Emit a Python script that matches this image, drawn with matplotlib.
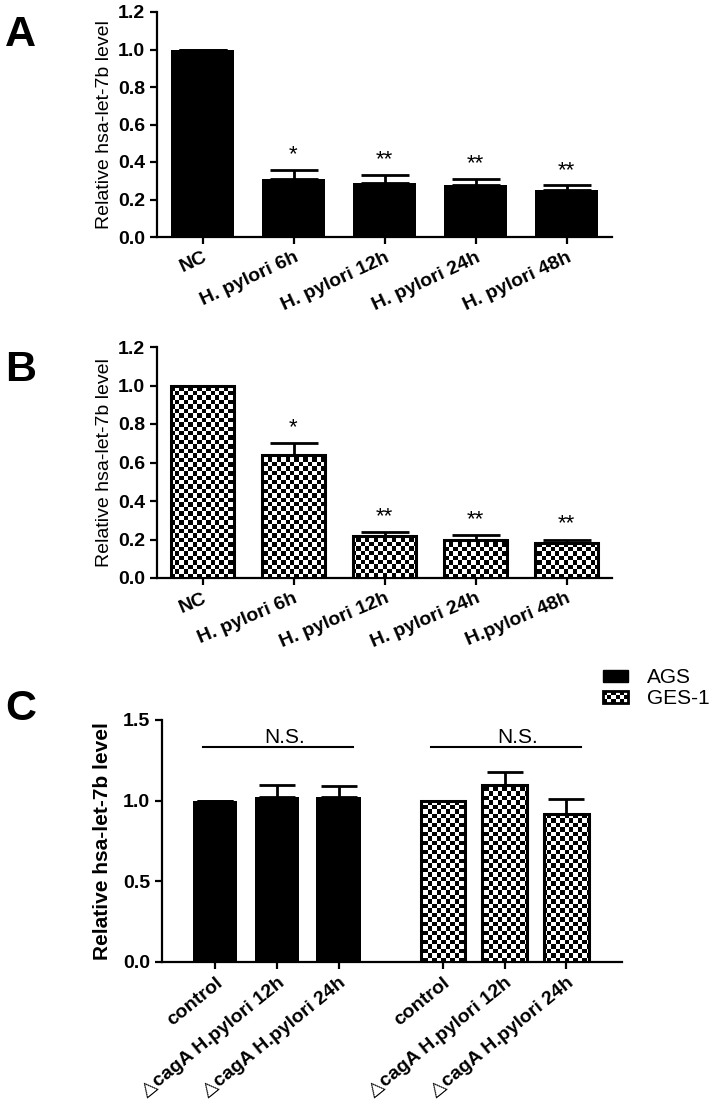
import numpy as np
import matplotlib
matplotlib.use("Agg")
import matplotlib.pyplot as plt
from matplotlib.patches import Rectangle, Patch
from matplotlib.collections import PatchCollection
from matplotlib.legend_handler import HandlerBase

plt.rcParams['font.family'] = ['Liberation Sans', 'DejaVu Sans']

# ---------------- data ----------------
a_labels = ["NC", "H. pylori 6h", "H. pylori 12h", "H. pylori 24h", "H. pylori 48h"]
a_values = [1.0, 0.31, 0.29, 0.28, 0.25]
a_errors = [0.0, 0.05, 0.04, 0.03, 0.025]
a_stars = ["", "*", "**", "**", "**"]

b_labels = ["NC", "H. pylori 6h", "H. pylori 12h", "H. pylori 24h", "H.pylori 48h"]
b_values = [1.0, 0.64, 0.22, 0.20, 0.18]
b_errors = [0.0, 0.06, 0.02, 0.025, 0.02]
b_stars = ["", "*", "**", "**", "**"]

c_labels = ["control", "\u25b3cagA H.pylori 12h", "\u25b3cagA H.pylori 24h"]
c_ags_values = [1.0, 1.02, 1.02]
c_ags_errors = [0.0, 0.08, 0.07]
c_ges_values = [1.0, 1.10, 0.92]
c_ges_errors = [0.0, 0.08, 0.09]
c_series = ["AGS", "GES-1"]
c_ns_label = "N.S."
c_ns_level = 1.333

ylabel = "Relative hsa-let-7b level"

W, H = 727, 1115
fig = plt.figure(figsize=(W / 100, H / 100), dpi=100)


def ax_at(left, right, top, bottom):
    return fig.add_axes([left / W, 1 - bottom / H, (right - left) / W, (bottom - top) / H])


CELL = 4.4


def checker_bars(ax, x, vals, width, xlim, ylim):
    ax.bar(x, vals, width=width, color='white', edgecolor='none', zorder=2)
    bw = ax.bbox.width
    bh = ax.bbox.height
    nx, ny = int(bw / CELL), int(bh / CELL)
    arr = (np.indices((ny, nx)).sum(0) % 2).astype(float)
    outline = ax.bar(x, vals, width=width, facecolor='none', edgecolor='black',
                     linewidth=2.2, zorder=4)
    for p in outline.patches:
        im = ax.imshow(arr, cmap='Greys', vmin=0, vmax=1, extent=(xlim[0], xlim[1], ylim[0], ylim[1]),
                       aspect='auto', interpolation='nearest', zorder=3, origin='lower')
        im.set_clip_path(p)
    ax.set_xlim(*xlim)
    ax.set_ylim(*ylim)


def style(ax):
    for s in ['top', 'right']:
        ax.spines[s].set_visible(False)
    for s in ['left', 'bottom']:
        ax.spines[s].set_linewidth(1.6)
    ax.tick_params(width=1.6, length=5, labelsize=14)
    for t in ax.get_yticklabels():
        t.set_fontweight('bold')


# ---------------- Panel A ----------------
axA = ax_at(157, 612, 12, 237)
xa = np.arange(len(a_values))
axA.bar(xa, a_values, width=0.7, color='black', zorder=2)
axA.errorbar(xa, a_values, yerr=[np.zeros(len(a_values)), a_errors], fmt='none',
             ecolor='black', elinewidth=2, capsize=17, capthick=2, zorder=1)
axA.set_xlim(-0.5, 4.5)
axA.set_ylim(0, 1.2)
axA.set_yticks(np.arange(0, 1.21, 0.2))
axA.set_yticklabels([f"{v:.1f}" for v in np.arange(0, 1.21, 0.2)])
axA.set_xticks(xa)
axA.set_xticklabels(a_labels, rotation=25, ha='right', rotation_mode='anchor',
                    fontweight='bold', fontsize=16)
for xi, v, e, s in zip(xa, a_values, a_errors, a_stars):
    if s:
        axA.text(xi, v + e + 0.025, s, ha='center', va='bottom', fontsize=16)
axA.set_ylabel(ylabel, fontsize=14)
style(axA)
fig.text(5 / W, 1 - 46 / H, "A", fontsize=31, fontweight='bold')

# ---------------- Panel B ----------------
axB = ax_at(157, 612, 347, 578)
xb = np.arange(len(b_values))
checker_bars(axB, xb, b_values, 0.7, (-0.5, 4.5), (0, 1.2))
axB.errorbar(xb, b_values, yerr=[np.zeros(len(b_values)), b_errors], fmt='none',
             ecolor='black', elinewidth=2, capsize=17, capthick=2, zorder=1)
axB.set_yticks(np.arange(0, 1.21, 0.2))
axB.set_yticklabels([f"{v:.1f}" for v in np.arange(0, 1.21, 0.2)])
axB.set_xticks(xb)
axB.set_xticklabels(b_labels, rotation=23, ha='right', rotation_mode='anchor',
                    fontweight='bold', fontsize=18)
for xi, v, e, s in zip(xb, b_values, b_errors, b_stars):
    if s:
        axB.text(xi, v + e + 0.025, s, ha='center', va='bottom', fontsize=16)
axB.set_ylabel(ylabel, fontsize=14)
style(axB)
fig.text(5 / W, 1 - 381 / H, "B", fontsize=31, fontweight='bold')

# ---------------- Panel C ----------------
axC = ax_at(162, 622, 720, 962)
xc_ags = np.arange(3)
xc_ges = np.arange(3) + 3.69
xlimC = (-0.86, 6.59)
ylimC = (0, 1.5)
axC.bar(xc_ags, c_ags_values, width=0.72, color='black', zorder=2)
checker_bars(axC, xc_ges, c_ges_values, 0.72, xlimC, ylimC)
axC.errorbar(xc_ags, c_ags_values, yerr=[np.zeros(3), c_ags_errors], fmt='none',
             ecolor='black', elinewidth=2, capsize=13, capthick=2, zorder=1)
axC.errorbar(xc_ges, c_ges_values, yerr=[np.zeros(3), c_ges_errors], fmt='none',
             ecolor='black', elinewidth=2, capsize=13, capthick=2, zorder=1)
axC.set_xlim(*xlimC)
axC.set_ylim(*ylimC)
axC.set_yticks([0, 0.5, 1.0, 1.5])
axC.set_yticklabels(["0.0", "0.5", "1.0", "1.5"])
axC.set_xticks(np.concatenate([xc_ags, xc_ges]))
axC.set_xticklabels(c_labels + c_labels, rotation=39, ha='right', rotation_mode='anchor',
                    fontweight='bold', fontsize=16)
for grp, shift in ((xc_ags, 0.12), (xc_ges, 0.21)):
    axC.plot([grp[0] - 0.19, grp[-1] + 0.24], [c_ns_level, c_ns_level], color='black',
             lw=1.5, clip_on=False)
    axC.text((grp[0] + grp[-1]) / 2 + shift, c_ns_level + 0.025, c_ns_label,
             ha='center', va='baseline', fontsize=15)
axC.set_ylabel(ylabel, fontsize=15, fontweight='bold', labelpad=8)
style(axC)
fig.text(5 / W, 1 - 720 / H, "C", fontsize=31, fontweight='bold')


class CheckerHandler(HandlerBase):
    def create_artists(self, legend, orig_handle, xdescent, ydescent, width, height, fontsize, trans):
        nx, ny = 6, 3
        cw, ch = width / nx, height / ny
        rects = []
        for i in range(nx):
            for j in range(ny):
                if (i + j) % 2 == 0:
                    rects.append(Rectangle((-xdescent + i * cw, -ydescent + j * ch), cw, ch))
        bg = Rectangle((-xdescent, -ydescent), width, height, facecolor='white',
                       edgecolor='none', transform=trans)
        pc = PatchCollection(rects, facecolor='black', edgecolor='none', transform=trans)
        border = Rectangle((-xdescent, -ydescent), width, height, facecolor='none',
                           edgecolor='black', lw=2, transform=trans)
        return [bg, pc, border]


h_ags = Patch(facecolor='black', edgecolor='black')
h_ges = Patch(facecolor='white', edgecolor='black')
fig.legend([h_ags, h_ges], c_series, loc='upper left',
           bbox_to_anchor=(603 / W, 1 - 668 / H), frameon=False, fontsize=15,
           handlelength=1.2, handleheight=0.5, handletextpad=0.9, labelspacing=0.1,
           borderpad=0, borderaxespad=0,
           handler_map={h_ges: CheckerHandler()})

fig.savefig("out.png", dpi=100)
